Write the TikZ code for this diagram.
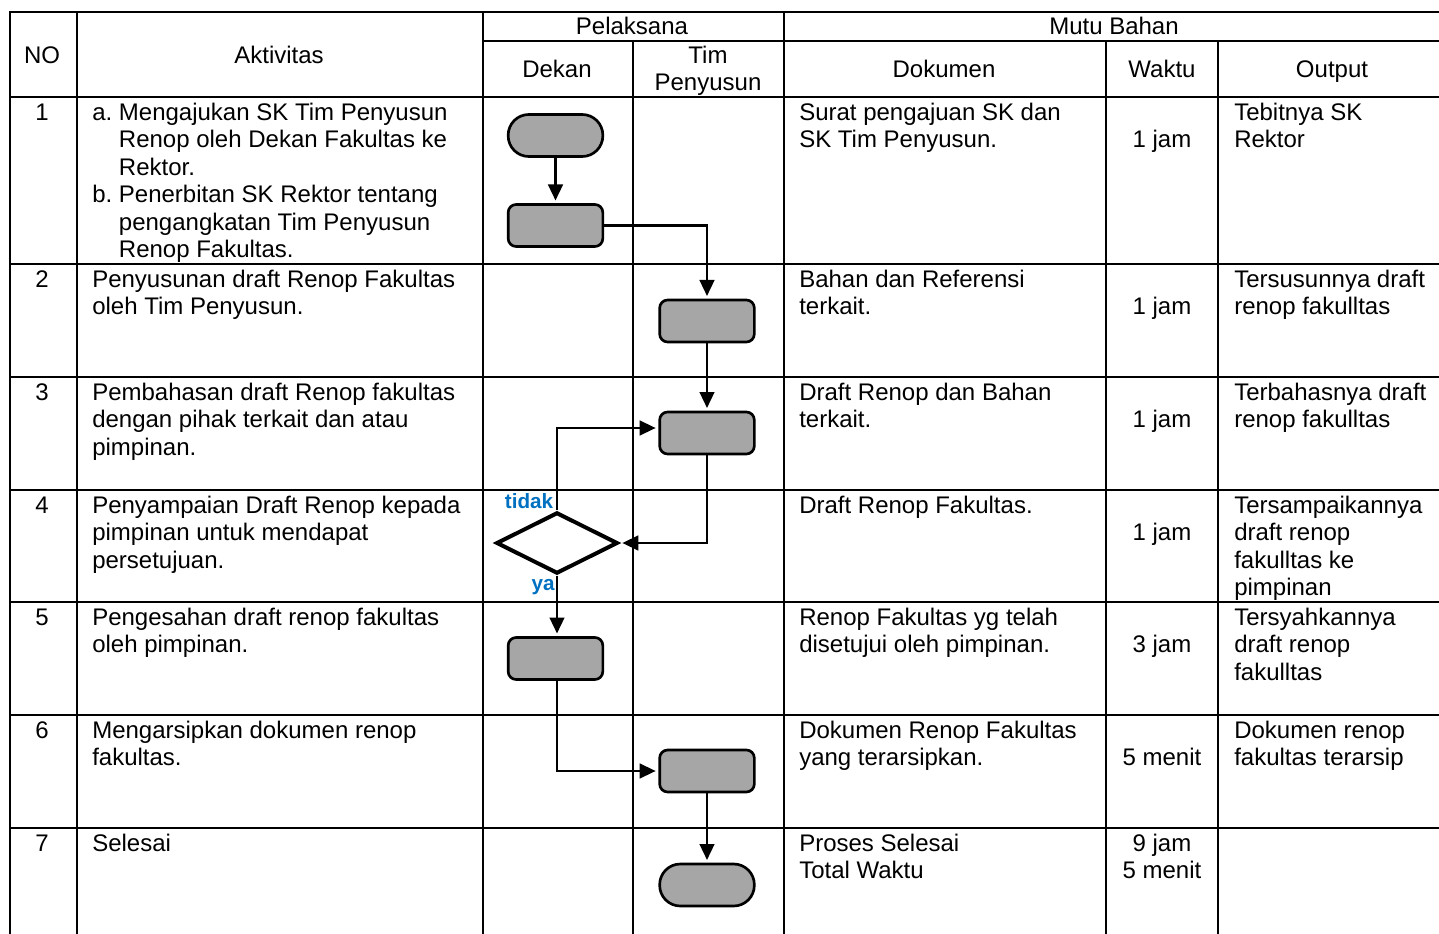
\documentclass[tikz,border=0pt]{standalone}
\usepackage{fontspec}
\setmainfont{Liberation Sans}
\usetikzlibrary{arrows.meta,shapes.geometric,calc}
\definecolor{boxgray}{HTML}{A6A6A6}
\definecolor{lblblue}{RGB}{0,112,192}
\tikzset{
  grid/.style={line width=1.6pt, line cap=rect},
  hd/.style={anchor=base, inner sep=0pt},
  cell/.style={anchor=north west, align=left, inner sep=0pt},
  wk/.style={anchor=north, align=center, inner sep=0pt},
  proc/.style={draw, line width=2pt, fill=boxgray, rounded corners=6pt, minimum width=71pt, minimum height=31.5pt, inner sep=0pt},
  term/.style={proc, rounded corners=15.5pt},
  dec/.style={draw, line width=3pt, diamond, aspect=2, minimum width=91pt, minimum height=46pt, inner sep=0pt},
  flow/.style={line width=1.8pt, -{Triangle[length=12pt,width=11pt]}, shorten >=2pt},
  lbl/.style={text=lblblue, font=\fontsize{15.5pt}{17pt}\selectfont\bfseries, inner sep=0pt}
}
\begin{document}
\begin{tikzpicture}[x=0.75pt,y=-0.75pt]
\fontsize{18pt}{20.6pt}\selectfont
\useasboundingbox (0,0) rectangle (1439,934);
% grid
\foreach \yy in {12,97,264,377,490,602,715,828} \draw[grid] (10,\yy) -- (1445,\yy);
\draw[grid] (483,41) -- (1445,41);
\foreach \xx in {10,77,483,784} \draw[grid] (\xx,12) -- (\xx,940);
\foreach \xx in {633,1106,1218} \draw[grid] (\xx,41) -- (\xx,940);
% header
\node[hd] (hno) at (42,63.5) {NO};
\node[hd] (hakt) at (279,63.5) {Aktivitas};
\node[hd] (hpel) at (632,34.5) {Pelaksana};
\node[hd] (hmutu) at (1114,34.5) {Mutu Bahan};
\node[hd] (hdek) at (557,77.5) {Dekan};
\node[hd] (htim) at (708,63.5) {Tim};
\node[hd] (hpen) at (708,91) {Penyusun};
\node[hd] (hdok) at (944,77.5) {Dokumen};
\node[hd] (hwak) at (1162,77.5) {Waktu};
\node[hd] (hout) at (1332,77.5) {Output};
% row 1
\node[wk] (n1) at (42,101) {\strut 1};
\node[cell] (a1) at (92,101) {\strut a.\ Mengajukan SK Tim Penyusun\\ \hphantom{a.\ }Renop oleh Dekan Fakultas ke\\ \hphantom{a.\ }Rektor.\\ b.\ Penerbitan SK Rektor tentang\\ \hphantom{a.\ }pengangkatan Tim Penyusun\\ \hphantom{a.\ }Renop Fakultas.};
\node[cell] (d1) at (799,101) {\strut Surat pengajuan SK dan\\ SK Tim Penyusun.};
\node[wk] (w1) at (1162,128.5) {\strut 1 jam};
\node[cell] (o1) at (1234,101) {\strut Tebitnya SK\\ Rektor};
% row 2
\node[wk] (n2) at (42,268) {\strut 2};
\node[cell] (a2) at (92,268) {\strut Penyusunan draft Renop Fakultas\\ oleh Tim Penyusun.};
\node[cell] (d2) at (799,268) {\strut Bahan dan Referensi\\ terkait.};
\node[wk] (w2) at (1162,295.5) {\strut 1 jam};
\node[cell] (o2) at (1234,268) {\strut Tersusunnya draft\\ renop fakulltas};
% row 3
\node[wk] (n3) at (42,381) {\strut 3};
\node[cell] (a3) at (92,381) {\strut Pembahasan draft Renop fakultas\\ dengan pihak terkait dan atau\\ pimpinan.};
\node[cell] (d3) at (799,381) {\strut Draft Renop dan Bahan\\ terkait.};
\node[wk] (w3) at (1162,408.5) {\strut 1 jam};
\node[cell] (o3) at (1234,381) {\strut Terbahasnya draft\\ renop fakulltas};
% row 4
\node[wk] (n4) at (42,494) {\strut 4};
\node[cell] (a4) at (92,494) {\strut Penyampaian Draft Renop kepada\\ pimpinan untuk mendapat\\ persetujuan.};
\node[cell] (d4) at (799,494) {\strut Draft Renop Fakultas.};
\node[wk] (w4) at (1162,521.5) {\strut 1 jam};
\node[cell] (o4) at (1234,494) {\strut Tersampaikannya\\ draft renop\\ fakulltas ke\\ pimpinan};
% row 5
\node[wk] (n5) at (42,606) {\strut 5};
\node[cell] (a5) at (92,606) {\strut Pengesahan draft renop fakultas\\ oleh pimpinan.};
\node[cell] (d5) at (799,606) {\strut Renop Fakultas yg telah\\ disetujui oleh pimpinan.};
\node[wk] (w5) at (1162,633.5) {\strut 3 jam};
\node[cell] (o5) at (1234,606) {\strut Tersyahkannya\\ draft renop\\ fakulltas};
% row 6
\node[wk] (n6) at (42,719) {\strut 6};
\node[cell] (a6) at (92,719) {\strut Mengarsipkan dokumen renop\\ fakultas.};
\node[cell] (d6) at (799,719) {\strut Dokumen Renop Fakultas\\ yang terarsipkan.};
\node[wk] (w6) at (1162,746.5) {\strut 5 menit};
\node[cell] (o6) at (1234,719) {\strut Dokumen renop\\ fakultas terarsip};
% row 7
\node[wk] (n7) at (42,832) {\strut 7};
\node[cell] (a7) at (92,832) {\strut Selesai};
\node[cell] (d7) at (799,832) {\strut Proses Selesai\\ Total Waktu};
\node[wk] (w7) at (1162,832) {\strut 9 jam\\ 5 menit};
% flow shapes
\node[term] (t1) at (555.5,135.5) {};
\node[proc] (p1) at (555.5,225.5) {};
\node[proc] (p2) at (707,321) {};
\node[proc] (p3) at (707,433) {};
\node[dec] (dd) at (557,543) {};
\node[proc] (p5) at (555.5,658.5) {};
\node[proc] (p6) at (707,771) {};
\node[term] (t2) at (707,885) {};
\node[lbl] (ltidak) at (529,501) {tidak};
\node[lbl] (lya) at (543,587) {ya};
% connectors
\draw[flow] (t1.south) -- (p1.north);
\draw[flow] (p1.east) -| (p2.north);
\draw[flow] (p2.south) -- (p3.north);
\draw[flow] (p3.south) |- (dd.east);
\draw[flow] (dd.north) |- ($(p3.west)+(0,-5)$);
\draw[flow] (dd.south) -- (dd.south |- p5.north);
\draw[flow] (dd.south |- p5.south) |- (p6.west);
\draw[flow] (p6.south) -- (t2.north);
\end{tikzpicture}
\end{document}
